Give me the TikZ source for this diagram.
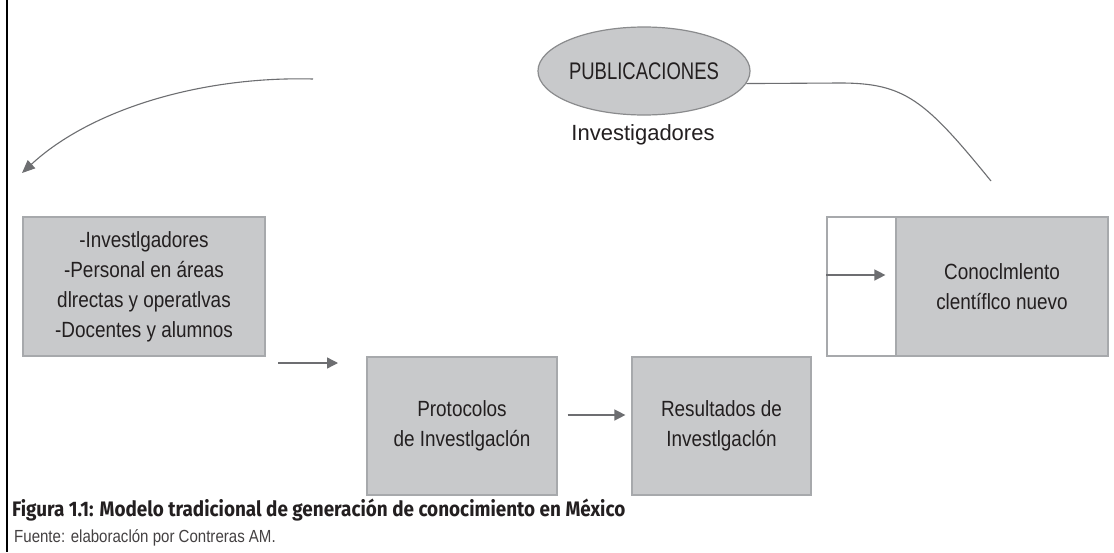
\documentclass[tikz,border=0pt]{standalone}
\usepackage{fontspec}
\setmainfont{Liberation Sans}
\newfontfamily\narrowfont{Liberation Sans}[FakeStretch=0.86]
\newfontfamily\pubfont{Liberation Sans}[FakeStretch=0.77]
\newfontfamily\capfont{Fira Sans}[FakeStretch=0.9]
\usetikzlibrary{arrows.meta,shapes.geometric}
\definecolor{boxfill}{HTML}{C8C9CB}
\definecolor{boxline}{HTML}{A7A9AC}
\definecolor{ellline}{HTML}{8A8B8D}
\definecolor{arrowgray}{HTML}{6D6E71}
\definecolor{txt}{HTML}{231F20}
\begin{document}
\begin{tikzpicture}[x=1pt,y=-1pt,
  graybox/.style={draw=boxline, fill=boxfill, line width=1.2pt, inner sep=0pt, align=center,
    font=\narrowfont\fontsize{22}{30}\selectfont, text=txt},
  framebox/.style={draw=boxline, line width=1.2pt, inner sep=0pt},
  flowarrow/.style={draw=arrowgray, line width=1.4pt, -{Triangle[length=11pt,width=11pt]}},
  curveline/.style={draw=arrowgray, line width=1.1pt},
]
\useasboundingbox (0,0) rectangle (1114,552);
\fill[white] (0,0) rectangle (1114,552);
\draw[line width=1.3pt] (7,0) -- (7,552);

% nodes
\node[ellipse, draw=ellline, fill=boxfill, line width=1.2pt, minimum width=198pt, minimum height=88pt,
  inner sep=0pt, font=\pubfont\fontsize{24}{28}\selectfont, text=txt] (pub) at (644,71) {PUBLICACIONES};
\node[font=\fontsize{22}{26}\selectfont, text=txt] (inv) at (643,135) {Investigadores};

\node[graybox, minimum width=242pt, minimum height=139pt] (grupo) at (144,286.5)
  {-Investlgadores\\-Personal en áreas\\dlrectas y operatlvas\\-Docentes y alumnos};
\node[graybox, minimum width=190pt, minimum height=138pt] (proto) at (462,426)
  {Protocolos\\de Investlgaclón};
\node[graybox, minimum width=179pt, minimum height=138pt] (res) at (721.5,426)
  {Resultados de\\Investlgaclón};
\node[framebox, minimum width=69pt, minimum height=139pt] (marco) at (861.5,286.5) {};
\node[graybox, minimum width=212pt, minimum height=139pt] (nuevo) at (1002,286.5)
  {Conoclmlento\\clentíflco nuevo};

% free ends
\coordinate (a1s) at (278,363);
\coordinate (a1e) at (338,363);
\coordinate (c1s) at (313,79);
\coordinate (c1e) at (22,173);
\coordinate (c2m) at (840,83);
\coordinate (c2e) at (991,181);

% connectors
\draw[flowarrow] (a1s) -- (a1e);
\draw[flowarrow] ([xshift=10pt,yshift=11pt]proto.east) -- ([xshift=-6pt,yshift=11pt]res.west);
\draw[flowarrow] ([yshift=11.5pt]marco.west) -- ([xshift=-10pt,yshift=11.5pt]nuevo.west);
\draw[curveline, -{Triangle[length=13pt,width=11pt]}] (c1s) .. controls (200,76) and (90,110) .. (c1e);
\draw[curveline] (pub.-7) -- (c2m) .. controls (905,83) and (925,100) .. (c2e);

% caption
\node[anchor=base west, inner sep=0pt, font=\capfont\bfseries\fontsize{21}{24}\selectfont, text=txt] (caption) at (12,516)
  {Figura 1.1: Modelo tradicional de generación de conocimiento en México};
\node[anchor=base west, inner sep=0pt, font=\narrowfont\fontsize{17.5}{20}\selectfont, text=txt!85] (fuente) at (14,542)
  {Fuente: elaboraclón por Contreras AM.};
\end{tikzpicture}
\end{document}
